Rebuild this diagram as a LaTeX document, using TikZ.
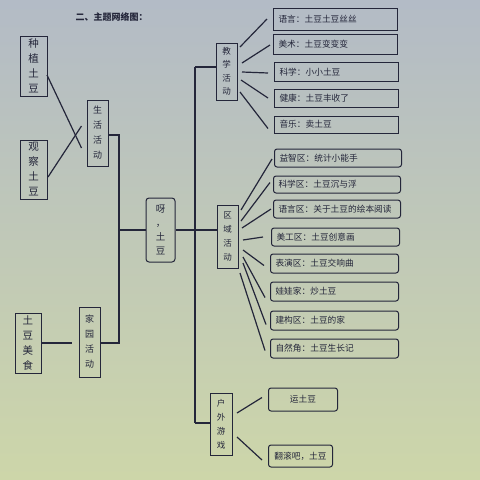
\documentclass[tikz,border=0pt]{standalone}
\usepackage{fontspec}
\newfontfamily\cjk{Noto Sans CJK SC}
\definecolor{ink}{HTML}{24263A}
\definecolor{bgtop}{HTML}{B3BBC6}
\definecolor{bgmid}{HTML}{C8D1BC}
\definecolor{bgbot}{HTML}{CDD6A9}
\begin{document}
\begin{tikzpicture}[x=1pt,y=-1pt,
  every node/.style={text=ink,font=\cjk},
  vbox/.style={draw=ink,line width=1pt,inner sep=0pt,align=center},
  leafbox/.style={draw=ink,line width=1pt,rounded corners=2.5pt,inner sep=0pt,anchor=west,text width=#1-10pt,align=left,font=\cjk\fontsize{8.7}{9}\selectfont},
  leafc/.style={draw=ink,line width=1pt,rounded corners=2.5pt,inner sep=0pt,anchor=west,align=center,font=\cjk\fontsize{8.7}{9}\selectfont},
  conn/.style={draw=ink,line width=1.2pt}]
\shade[top color=bgtop,middle color=bgmid,bottom color=bgbot] (0,0) rectangle (480,480);
\useasboundingbox (0,0) rectangle (480,480);

\node[anchor=west,font=\cjk\fontsize{9}{10}\selectfont\bfseries] (title) at (72,17) {二、主题网络图：};

% left column
\node[vbox,minimum width=27pt,minimum height=60pt,font=\cjk\fontsize{10.5}{15}\selectfont] (zz) at (33.5,66) {种\\植\\土\\豆};
\node[vbox,minimum width=27pt,minimum height=59pt,font=\cjk\fontsize{10.5}{15}\selectfont] (gc) at (33.5,169.5) {观\\察\\土\\豆};
\node[vbox,minimum width=21pt,minimum height=66pt,font=\cjk\fontsize{9}{15}\selectfont] (sh) at (97.5,133) {生\\活\\活\\动};
\node[vbox,minimum width=26pt,minimum height=60pt,font=\cjk\fontsize{10.5}{15}\selectfont] (tm) at (28,343) {土\\豆\\美\\食};
\node[vbox,minimum width=21pt,minimum height=70pt,font=\cjk\fontsize{9}{15}\selectfont] (jy) at (89.5,342) {家\\园\\活\\动};
\node[vbox,rounded corners=3pt,minimum width=29pt,minimum height=64pt,font=\cjk\fontsize{9.5}{14}\selectfont] (ya) at (160.5,230) {呀\\，\\土\\豆};

% middle column
\node[vbox,minimum width=21pt,minimum height=57pt,font=\cjk\fontsize{8.5}{13.5}\selectfont] (jx) at (226.5,71.5) {教\\学\\活\\动};
\node[vbox,minimum width=21pt,minimum height=63pt,font=\cjk\fontsize{8.5}{14}\selectfont] (qy) at (227.5,236.5) {区\\域\\活\\动};
\node[vbox,minimum width=22pt,minimum height=62pt,font=\cjk\fontsize{8.5}{14}\selectfont] (hw) at (221,424) {户\\外\\游\\戏};

% teaching leaves
\node[leafbox=124pt,rounded corners=0pt,minimum width=124pt,minimum height=22pt] (l1) at (273,19) {语言：土豆土豆丝丝};
\node[leafbox=124pt,rounded corners=0pt,minimum width=124pt,minimum height=20pt] (l2) at (273,44) {美术：土豆变变变};
\node[leafbox=124pt,rounded corners=0pt,minimum width=124pt,minimum height=19pt] (l3) at (274,72) {科学：小小土豆};
\node[leafbox=124pt,rounded corners=0pt,minimum width=124pt,minimum height=18pt] (l4) at (274,98) {健康：土豆丰收了};
\node[leafbox=124pt,rounded corners=0pt,minimum width=124pt,minimum height=17pt] (l5) at (274,124.5) {音乐：卖土豆};

% area leaves
\node[leafbox=127pt,minimum width=127pt,minimum height=18pt] (r1) at (274,158) {益智区：统计小能手};
\node[leafbox=127pt,minimum width=127pt,minimum height=17pt] (r2) at (273,184.5) {科学区：土豆沉与浮};
\node[leafbox=127pt,minimum width=127pt,minimum height=18pt] (r3) at (273,209) {语言区：关于土豆的绘本阅读};
\node[leafbox=128pt,minimum width=128pt,minimum height=18pt] (r4) at (271,237) {美工区：土豆创意画};
\node[leafbox=128pt,minimum width=128pt,minimum height=19pt] (r5) at (270,263.5) {表演区：土豆交响曲};
\node[leafbox=128pt,minimum width=128pt,minimum height=19pt] (r6) at (270,291.5) {娃娃家：炒土豆};
\node[leafbox=128pt,minimum width=128pt,minimum height=19pt] (r7) at (270,320.5) {建构区：土豆的家};
\node[leafbox=128pt,minimum width=128pt,minimum height=19pt] (r8) at (270,348.5) {自然角：土豆生长记};

% outdoor leaves
\node[leafc,minimum width=69pt,minimum height=23pt] (o1) at (268,399.5) {运土豆};
\node[leafc,minimum width=64pt,minimum height=22pt] (o2) at (268,456) {翻滚吧，土豆};

% trunk coordinates
\coordinate (t1) at (119,135);
\coordinate (t2) at (119,343);
\coordinate (t3) at (119,230);
\coordinate (u1) at (195,67);
\coordinate (u2) at (195,423);
\coordinate (u3) at (195,230);

% left connectors
\draw[conn] (47,75) -- ([xshift=-5pt,yshift=-15pt]sh.west);
\draw[conn] (48,177) -- ([xshift=-5pt,yshift=7pt]sh.west);
\draw[conn] (tm.east) -- ([xshift=-7pt]jy.west |- tm.east);
\draw[conn] (sh.east |- t1) -- (t1) -- (t2) -- (jy.east |- t2);
\draw[conn] (t3) -- (ya.west |- t3);
\draw[conn] (ya.east |- u3) -- (qy.west |- u3);
\draw[conn] (u1) -- (u2);
\draw[conn] (u1) -- (jx.west |- u1);
\draw[conn] (u2) -- (hw.west |- u2);

% teaching spokes
\draw[conn] (240,47) -- ([xshift=-6pt]l1.west);
\draw[conn] (242,63) -- ([xshift=-3pt,yshift=-1pt]l2.west);
\draw[conn] (242,72) -- ([xshift=-6pt,yshift=-1pt]l3.west);
\draw[conn] (241,80) -- ([xshift=-6pt]l4.west);
\draw[conn] (240,92) -- ([xshift=-6pt,yshift=-4pt]l5.west);

% area spokes
\draw[conn] (241,210) -- ([xshift=-2pt,yshift=-1pt]r1.west);
\draw[conn] (241,221) -- ([xshift=-3pt,yshift=2pt]r2.west);
\draw[conn] (242,228) -- ([xshift=-2pt]r3.west);
\draw[conn] (243,240) -- ([xshift=-8pt]r4.west);
\draw[conn] (243,250) -- ([xshift=-6pt,yshift=-2pt]r5.west);
\draw[conn] (243,257) -- ([xshift=-5pt,yshift=-6pt]r6.west);
\draw[conn] (243,263) -- ([xshift=-4pt,yshift=-4pt]r7.west);
\draw[conn] (240,273) -- ([xshift=-5pt,yshift=-2pt]r8.west);

% outdoor spokes
\draw[conn] (237,413) -- ([xshift=-6pt,yshift=2pt]o1.west);
\draw[conn] (237,437) -- ([xshift=-6pt,yshift=-4pt]o2.west);
\end{tikzpicture}
\end{document}
